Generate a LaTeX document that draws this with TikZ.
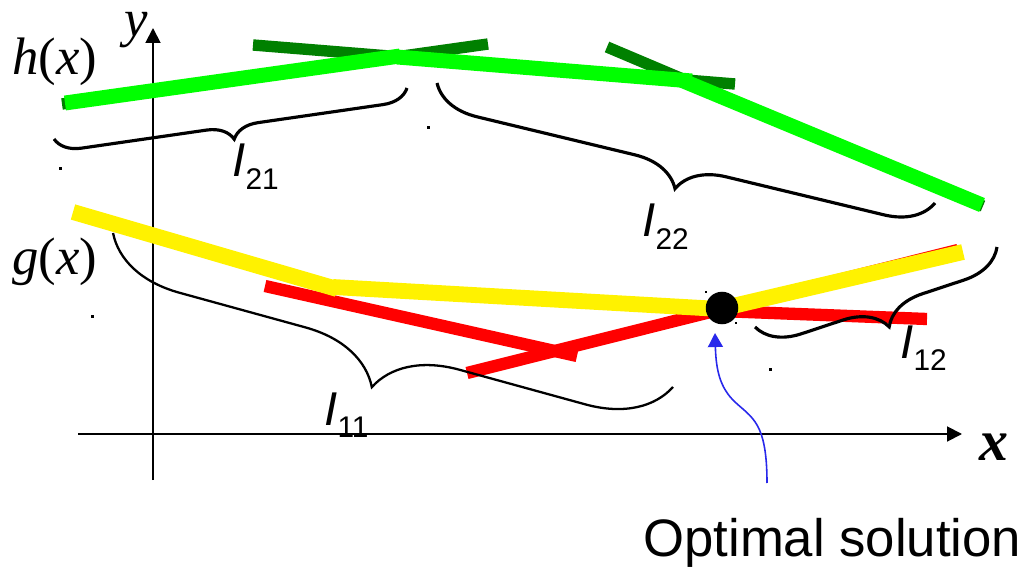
\documentclass[tikz,border=0pt]{standalone}
\usepackage{fontspec}
\setmainfont{Liberation Sans}
\newfontfamily\timesfont{Liberation Serif}
\usetikzlibrary{decorations.pathreplacing, arrows.meta, positioning}
\definecolor{lgreen}{RGB}{0,255,0}
\definecolor{dgreen}{RGB}{0,128,0}
\definecolor{optblue}{RGB}{40,40,235}
\tikzset{
  axis/.style={line width=1.1pt, -{Triangle[length=8.5pt,width=8.5pt]}},
  hseg/.style={lgreen, line width=8.5pt},
  htan/.style={dgreen, line width=6.5pt},
  gseg/.style={yellow, line width=9pt},
  gtan/.style={red, line width=7pt},
  bracket/.style={decorate, line width=1.8pt, decoration={brace, amplitude=#1}},
  ilab/.style={inner sep=0pt, anchor=base west},
  speck/.style={fill=black}
}
\newcommand{\Ilab}[1]{{\fontsize{27}{27}\selectfont\itshape I}\raisebox{-7.2pt}{\fontsize{17}{17}\selectfont #1}}
\newcommand{\fnlab}[1]{{\timesfont\fontsize{30}{30}\selectfont\itshape #1\upshape(\itshape x\upshape)}}

\begin{document}
\begin{tikzpicture}[x=0.02cm, y=-0.02cm]
  \useasboundingbox (0,0) rectangle (1024,567);
  % axes
  \draw[axis] (153,480) -- (153,28);
  \draw[axis] (78,434) -- (962,434);
  \node[inner sep=0pt, anchor=base] (ylab) at (136,37) {\timesfont\fontsize{30}{30}\selectfont\itshape y};
  \node[inner sep=0pt, anchor=base] (xlab) at (994,460) {\timesfont\fontsize{33}{33}\selectfont\bfseries\itshape x};
  \node[ilab] (hlab) at (12,75) {\fnlab{h}};
  \node[ilab] (glab) at (12,275) {\fnlab{g}};
  % h(x) and its tangents
  \draw[htan] (62,104) -- (488,44);
  \draw[htan] (253,45) -- (735,84);
  \draw[htan] (607,47) -- (983,206);
  \draw[hseg] (65,103) -- (400,56);
  \draw[hseg] (397,57) -- (692,81);
  \draw[hseg] (681,80) -- (982,205);
  % g(x) and its tangents
  \draw[gtan] (265,286) -- (577,356);
  \draw[gtan] (467,373) -- (958,250);
  \draw[gtan] (720,311) -- (927,319);
  \draw[gseg] (73,212) -- (337,289);
  \draw[gseg] (333,287) -- (720,309);
  \draw[gseg] (720,309) -- (963,252);
  % optimum
  \node[circle, fill, inner sep=0pt, minimum size=18.5pt] (opt) at (722,308) {};
  \node[ilab] (optlab) at (643,556) {\fontsize{30}{30}\selectfont Optimal solution};
  \coordinate (optfoot) at (767,483);
  \coordinate (opttip) at (715,333);
  \draw[optblue, line width=0.9pt, -{Triangle[length=8pt,width=8.5pt]}]
    (optfoot) .. controls (767,422) and (752,418) .. (735,402)
    .. controls (720,388) and (716,370) .. (opttip);
  % braces
  \draw[bracket=0.52cm] (407,88) -- (54,139);
  \draw[bracket=0.94cm] (935,203) -- (437,83);
  \draw[bracket=1.6cm, line width=1.3pt] (673,387) -- (113,233);
  \draw[bracket=0.84cm] (997,247) -- (755,327);
  \node[ilab] (i21) at (232,177) {\Ilab{21}};
  \node[ilab] (i22) at (642,237) {\Ilab{22}};
  \node[ilab] (i11) at (324,425) {\Ilab{11}};
  \node[ilab] (i12) at (900,358) {\Ilab{12}};
  % stray marks
  \fill[speck] (59,167) rectangle +(3,3);
  \fill[speck] (427,126) rectangle +(3,3);
  \fill[speck] (91,315) rectangle +(3,3);
  \fill[speck] (769,368) rectangle +(3,3);
  \fill[speck] (705,291) rectangle +(2,2);
  \fill[speck] (735,322) rectangle +(2,2);
\end{tikzpicture}
\end{document}
